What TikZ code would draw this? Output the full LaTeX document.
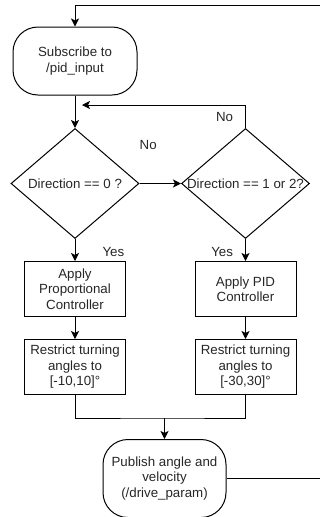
\documentclass[tikz,border=0pt]{standalone}
\usepackage{fontspec}
\setmainfont{Liberation Sans}
\usepackage{tikz}
\usetikzlibrary{shapes,arrows.meta}
\tikzstyle{terminal} = [rectangle, rounded corners=25pt, minimum width=124pt, minimum height=68pt, text centered, align=center, draw=black, line width=1pt]
\tikzstyle{decision} = [diamond, aspect=1.16, minimum width=128pt, minimum height=110pt, inner sep=-8pt, text centered, draw=black, line width=1pt]
\tikzstyle{process} = [rectangle, minimum width=101pt, minimum height=55pt, text centered, align=center, draw=black, line width=1pt]
\tikzstyle{arrow} = [line width=1pt,->,>={Stealth[length=8pt,width=8pt,inset=2pt]}]
\tikzstyle{line} = [line width=1pt]
\tikzstyle{tag} = [inner sep=0pt]

\begin{document}
\begin{tikzpicture}[x=1pt, y=1pt, font=\fontsize{13.3pt}{15.5pt}\selectfont, text=black!85]
                \useasboundingbox (0,0) rectangle (320,-517);
                \node (sub) [terminal] at (75,-61) {Subscribe to\\/pid\_input};
                \node (dir0) [decision, node distance=122.5pt, below of=sub] {Direction == 0 ?};
                \node (dir12) [decision, node distance=170.5pt, right of=dir0] {Direction == 1 or 2?};
                \node (prop) [process, node distance=105.5pt, below of=dir0] {Apply\\Proportional\\Controller};
                \node (pid) [process, node distance=105.5pt, below of=dir12] {Apply PID\\Controller};
                \node (lim10) [process, node distance=78pt, below of=prop] {Restrict turning\\angles to\\{[}-10,10{]}\textdegree};
                \node (lim30) [process, node distance=78pt, below of=pid] {Restrict turning\\angles to\\{[}-30,30{]}\textdegree};
                \node (pub) [terminal, minimum width=123pt, minimum height=78pt] at (164.5,-478.5) {Publish angle and\\velocity\\(/drive\_param)};
                \coordinate (back) at (82,-105);
                \coordinate (join) at (164.5,-418);
                \coordinate (ret) at (330,-5.5);
                \draw [arrow] (sub) -- (dir0);
                \draw [arrow] (dir0) -- node[tag, pos=.21, above=33pt] {No} (dir12);
                \draw [arrow] (dir12) |- node[tag, pos=.25, left=12pt] {No} (back);
                \draw [arrow] (dir0) -- node[tag, pos=.6, right=27pt] {Yes} (prop);
                \draw [arrow] (dir12) -- node[tag, pos=.6, left=12pt] {Yes} (pid);
                \draw [arrow] (prop) -- (lim10);
                \draw [arrow] (pid) -- (lim30);
                \draw [line] (lim10) |- (join) -| (lim30);
                \draw [arrow] (join) -- (pub);
                \draw [arrow] (pub) -- (pub -| ret) -- (ret) -| (sub);
            \end{tikzpicture}
\end{document}
